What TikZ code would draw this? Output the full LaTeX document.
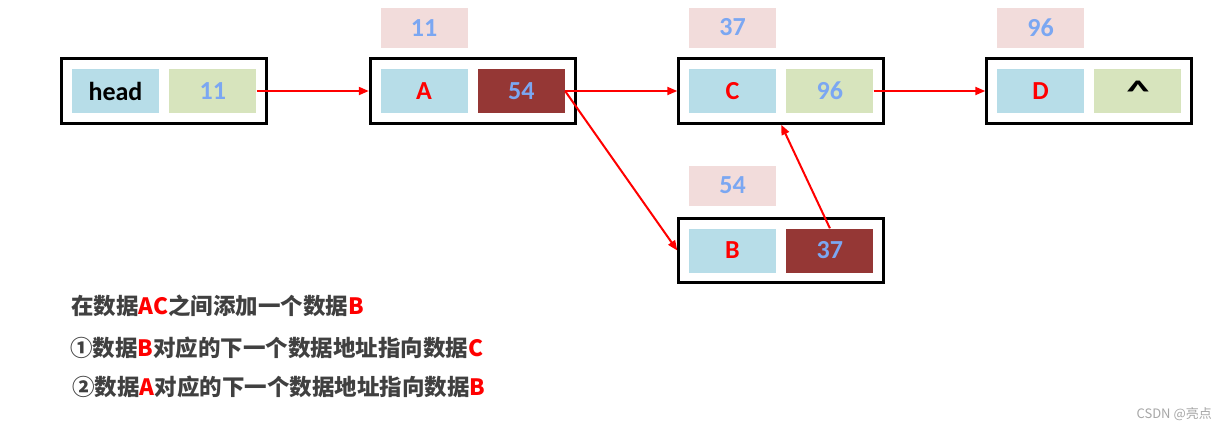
\documentclass[tikz,border=0pt]{standalone}
\usepackage{fontspec}
\setmainfont{Carlito}
\newfontfamily\cjk{Noto Sans CJK SC}
\usetikzlibrary{positioning, fit, arrows.meta}

\definecolor{cellblue}{HTML}{B7DDE8}
\definecolor{cellgreen}{HTML}{D7E4BD}
\definecolor{cellred}{HTML}{953735}
\definecolor{addrpink}{HTML}{F2DCDB}
\definecolor{numblue}{HTML}{7BA7F2}
\definecolor{textgray}{HTML}{404040}

\begin{document}
\begin{tikzpicture}[x=1pt, y=-1pt,
          % Base node styles
          cell/.style={rectangle, minimum width=87pt, minimum height=44pt, inner sep=0pt, font=\bfseries\fontsize{26}{30}\selectfont},
          % Cell colours as in the picture
          namecell/.style={cell, fill=cellblue, text=red},
          ptrcell/.style={cell, fill=cellgreen, text=numblue},
          newptr/.style={cell, fill=cellred, text=numblue},
          addr/.style={cell, minimum height=40pt, fill=addrpink, text=numblue},
          % Frame round one list element
          frame/.style={rectangle, draw=black, line width=3pt, inner sep=10pt},
          % Notes under the list
          note/.style={anchor=west, inner sep=0pt, text=textgray, font=\cjk\bfseries\fontsize{22.5}{26}\selectfont},
          % Arrow style
          link/.style={-{Triangle[length=10pt, width=8pt]}, draw=red, line width=2pt}
        ]
          \useasboundingbox (0,0) rectangle (1227,432);

          % ==========================================
          % 1. Head
          % ==========================================
          \node[namecell, text=black] (head) at (115.5,91) {head};
          \node[ptrcell, right=10pt of head] (ptr_head) {11};
          \node[frame, fit=(head) (ptr_head)] (frame_head) {};

          % ==========================================
          % 2. Elements A, C, D on the top row
          % ==========================================
          \node[namecell] (elem_a) at (424,91) {A};
          \node[newptr, right=10pt of elem_a] (ptr_a) {54};
          \node[frame, fit=(elem_a) (ptr_a)] (frame_a) {};
          \node[addr] (addr_a) at (424,28) {11};

          \node[namecell] (elem_c) at (732.5,91) {C};
          \node[ptrcell, right=10pt of elem_c] (ptr_c) {96};
          \node[frame, fit=(elem_c) (ptr_c)] (frame_c) {};
          \node[addr] (addr_c) at (732.5,27.5) {37};

          \node[namecell] (elem_d) at (1040.5,91) {D};
          \node[ptrcell, text=black, right=10pt of elem_d] (ptr_d) {\raisebox{-5pt}{\scalebox{1.8}[1.15]{\textasciicircum}}};
          \node[frame, fit=(elem_d) (ptr_d)] (frame_d) {};
          \node[addr] (addr_d) at (1040.5,27.5) {96};

          % ==========================================
          % 3. New element B
          % ==========================================
          \node[namecell] (elem_b) at (732.5,250.5) {B};
          \node[newptr, right=10pt of elem_b] (ptr_b) {37};
          \node[frame, fit=(elem_b) (ptr_b)] (frame_b) {};
          \node[addr] (addr_b) at (732.5,185.5) {54};

          % ==========================================
          % 4. Links
          % ==========================================
          \draw[link] (ptr_head.east) -- (frame_a.west);
          \draw[link] (ptr_a.east) -- (frame_c.west);
          \draw[link] (ptr_a.east) -- (frame_b.west);
          \draw[link] (ptr_b.north) -- (frame_c.south);
          \draw[link] (ptr_c.east) -- (frame_d.west);

          % ==========================================
          % 5. Notes
          % ==========================================
          \node[note] (note_1) at (71,306) {在数据\textcolor{red}{AC}之间添加一个数据\textcolor{red}{B}};
          \node[note] (note_2) at (70,348) {①数据\textcolor{red}{B}对应的下一个数据地址指向数据\textcolor{red}{C}};
          \node[note] (note_3) at (72,387) {②数据\textcolor{red}{A}对应的下一个数据地址指向数据\textcolor{red}{B}};

          \node[anchor=east, inner sep=0pt, text=gray!70, font=\cjk\fontsize{13}{15}\selectfont] (mark) at (1212,414) {CSDN @亮点};
        \end{tikzpicture}
\end{document}
